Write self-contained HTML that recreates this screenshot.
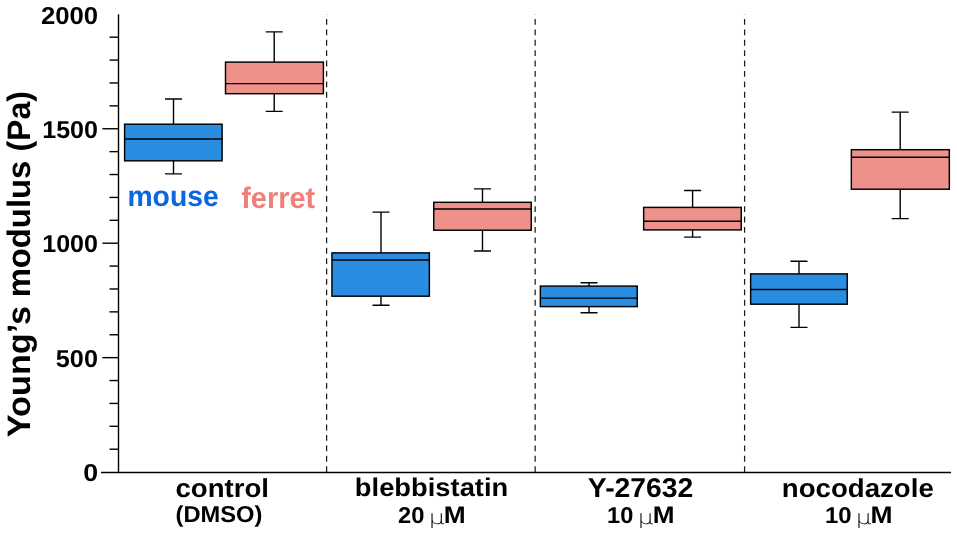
<!DOCTYPE html>
<html lang="en"><head><meta charset="utf-8"><title>Young’s modulus box plot</title>
<style>
html,body{margin:0;padding:0;background:#fff;}
body{width:957px;height:535px;overflow:hidden;}
svg{display:block;will-change:transform;opacity:0.999;}
text{font-family:"Liberation Sans",sans-serif;font-weight:bold;fill:#000000;text-rendering:geometricPrecision;}
text.mu{font-family:"DejaVu Sans Light","DejaVu Sans",sans-serif;font-weight:200;}
</style></head><body>
<svg width="957" height="535" viewBox="0 0 957 535">
<rect x="0" y="0" width="957" height="535" fill="#ffffff"/>
<g stroke="#1c1c1c" stroke-width="1.25" fill="none" stroke-dasharray="5.85 4.55" stroke-dashoffset="5.70">
<line x1="326.60" y1="14.3" x2="326.60" y2="472.10"/>
<line x1="535.15" y1="14.3" x2="535.15" y2="472.10"/>
<line x1="744.60" y1="14.3" x2="744.60" y2="472.10"/>
</g>
<g stroke="#000000" stroke-width="1.40" fill="none">
<line x1="118.50" y1="14.30" x2="118.50" y2="472.50"/>
<line x1="101.00" y1="472.50" x2="951" y2="472.50"/>
<line x1="109.5" y1="449.21" x2="118.50" y2="449.21"/>
<line x1="109.5" y1="426.32" x2="118.50" y2="426.32"/>
<line x1="109.5" y1="403.43" x2="118.50" y2="403.43"/>
<line x1="109.5" y1="380.54" x2="118.50" y2="380.54"/>
<line x1="102.4" y1="357.65" x2="118.50" y2="357.65"/>
<line x1="109.5" y1="334.76" x2="118.50" y2="334.76"/>
<line x1="109.5" y1="311.87" x2="118.50" y2="311.87"/>
<line x1="109.5" y1="288.98" x2="118.50" y2="288.98"/>
<line x1="109.5" y1="266.09" x2="118.50" y2="266.09"/>
<line x1="102.4" y1="243.20" x2="118.50" y2="243.20"/>
<line x1="109.5" y1="220.31" x2="118.50" y2="220.31"/>
<line x1="109.5" y1="197.42" x2="118.50" y2="197.42"/>
<line x1="109.5" y1="174.53" x2="118.50" y2="174.53"/>
<line x1="109.5" y1="151.64" x2="118.50" y2="151.64"/>
<line x1="102.4" y1="128.75" x2="118.50" y2="128.75"/>
<line x1="109.5" y1="105.86" x2="118.50" y2="105.86"/>
<line x1="109.5" y1="82.97" x2="118.50" y2="82.97"/>
<line x1="109.5" y1="60.08" x2="118.50" y2="60.08"/>
<line x1="109.5" y1="37.19" x2="118.50" y2="37.19"/>
</g>
<g stroke="#000000" fill="none">
<path d="M173.50 99.00V124.20M165.00 99.00H182.00M173.50 160.80V173.90M165.00 173.90H182.00" stroke-width="1.40"/>
<rect x="124.60" y="124.20" width="97.50" height="36.60" fill="#298DE1" stroke-width="1.45"/>
<line x1="124.60" y1="138.90" x2="222.10" y2="138.90" stroke-width="1.45"/>
</g>
<g stroke="#000000" fill="none">
<path d="M274.20 31.90V62.10M265.70 31.90H282.70M274.20 93.70V111.40M265.70 111.40H282.70" stroke-width="1.40"/>
<rect x="225.50" y="62.10" width="97.90" height="31.60" fill="#ED918A" stroke-width="1.45"/>
<line x1="225.50" y1="83.60" x2="323.40" y2="83.60" stroke-width="1.45"/>
</g>
<g stroke="#000000" fill="none">
<path d="M381.00 212.10V252.90M372.50 212.10H389.50M381.00 296.20V305.30M372.50 305.30H389.50" stroke-width="1.40"/>
<rect x="331.95" y="252.90" width="97.40" height="43.30" fill="#298DE1" stroke-width="1.45"/>
<line x1="331.95" y1="260.00" x2="429.35" y2="260.00" stroke-width="1.45"/>
</g>
<g stroke="#000000" fill="none">
<path d="M482.50 188.90V202.30M474.00 188.90H491.00M482.50 230.20V251.00M474.00 251.00H491.00" stroke-width="1.40"/>
<rect x="433.75" y="202.30" width="97.50" height="27.90" fill="#ED918A" stroke-width="1.45"/>
<line x1="433.75" y1="208.90" x2="531.25" y2="208.90" stroke-width="1.45"/>
</g>
<g stroke="#000000" fill="none">
<path d="M589.00 282.80V286.10M580.50 282.80H597.50M589.00 306.60V312.70M580.50 312.70H597.50" stroke-width="1.40"/>
<rect x="540.35" y="286.10" width="96.90" height="20.50" fill="#298DE1" stroke-width="1.45"/>
<line x1="540.35" y1="298.10" x2="637.25" y2="298.10" stroke-width="1.45"/>
</g>
<g stroke="#000000" fill="none">
<path d="M692.60 190.50V207.40M684.10 190.50H701.10M692.60 229.90V237.10M684.10 237.10H701.10" stroke-width="1.40"/>
<rect x="643.65" y="207.40" width="97.60" height="22.50" fill="#ED918A" stroke-width="1.45"/>
<line x1="643.65" y1="221.30" x2="741.25" y2="221.30" stroke-width="1.45"/>
</g>
<g stroke="#000000" fill="none">
<path d="M799.00 261.20V273.90M790.50 261.20H807.50M799.00 304.20V327.40M790.50 327.40H807.50" stroke-width="1.40"/>
<rect x="750.65" y="273.90" width="96.60" height="30.30" fill="#298DE1" stroke-width="1.45"/>
<line x1="750.65" y1="289.50" x2="847.25" y2="289.50" stroke-width="1.45"/>
</g>
<g stroke="#000000" fill="none">
<path d="M900.20 112.10V149.70M891.70 112.10H908.70M900.20 189.20V218.60M891.70 218.60H908.70" stroke-width="1.40"/>
<rect x="851.35" y="149.70" width="98.00" height="39.50" fill="#ED918A" stroke-width="1.45"/>
<line x1="851.35" y1="157.30" x2="949.35" y2="157.30" stroke-width="1.45"/>
</g>
<text x="40.98" y="23.80" font-size="24.50" textLength="57.16" lengthAdjust="spacingAndGlyphs">2000</text>
<text x="42.22" y="138.20" font-size="24.50" textLength="55.73" lengthAdjust="spacingAndGlyphs">1500</text>
<text x="42.22" y="252.40" font-size="24.50" textLength="55.73" lengthAdjust="spacingAndGlyphs">1000</text>
<text x="55.86" y="366.90" font-size="24.50" textLength="42.06" lengthAdjust="spacingAndGlyphs">500</text>
<text x="83.27" y="480.60" font-size="24.50" textLength="14.89" lengthAdjust="spacingAndGlyphs">0</text>
<text x="127.40" y="206.00" font-size="28.90" textLength="91.30" lengthAdjust="spacingAndGlyphs" style="fill:#0C66E0">mouse</text>
<text x="241.16" y="207.50" font-size="29.80" textLength="74.08" lengthAdjust="spacingAndGlyphs" style="fill:#EE807C">ferret</text>
<text x="175.51" y="496.70" font-size="26.00" textLength="93.48" lengthAdjust="spacingAndGlyphs">control</text>
<text x="175.51" y="522.40" font-size="23.00" textLength="86.84" lengthAdjust="spacingAndGlyphs">(DMSO)</text>
<text x="354.88" y="496.40" font-size="25.60" textLength="153.36" lengthAdjust="spacingAndGlyphs">blebbistatin</text>
<text x="587.82" y="496.50" font-size="27.30" textLength="105.55" lengthAdjust="spacingAndGlyphs">Y-27632</text>
<text x="781.88" y="496.60" font-size="26.00" textLength="151.89" lengthAdjust="spacingAndGlyphs">nocodazole</text>
<text x="398.12" y="522.70" font-size="22.90" textLength="26.40" lengthAdjust="spacingAndGlyphs">20</text>
<text x="428.65" y="524.00" font-size="19.60" textLength="16.05" lengthAdjust="spacingAndGlyphs" class="mu">μ</text>
<text x="443.86" y="522.70" font-size="24.10" textLength="21.93" lengthAdjust="spacingAndGlyphs">M</text>
<text x="607.02" y="522.70" font-size="22.90" textLength="26.23" lengthAdjust="spacingAndGlyphs">10</text>
<text x="637.66" y="524.00" font-size="19.60" textLength="15.79" lengthAdjust="spacingAndGlyphs" class="mu">μ</text>
<text x="652.75" y="522.70" font-size="24.10" textLength="21.78" lengthAdjust="spacingAndGlyphs">M</text>
<text x="824.93" y="522.70" font-size="22.90" textLength="26.57" lengthAdjust="spacingAndGlyphs">10</text>
<text x="855.66" y="524.00" font-size="19.60" textLength="15.79" lengthAdjust="spacingAndGlyphs" class="mu">μ</text>
<text x="870.63" y="522.70" font-size="24.10" textLength="22.03" lengthAdjust="spacingAndGlyphs">M</text>
<g transform="translate(30.10 0) rotate(-90)" font-size="32.50">
<text x="-437.22" y="0" textLength="131.20" lengthAdjust="spacingAndGlyphs">Young’s</text>
<text x="-297.39" y="0" textLength="136.68" lengthAdjust="spacingAndGlyphs">modulus</text>
<text x="-151.54" y="0" textLength="60.42" lengthAdjust="spacingAndGlyphs">(Pa)</text>
</g>
</svg>
</body></html>
